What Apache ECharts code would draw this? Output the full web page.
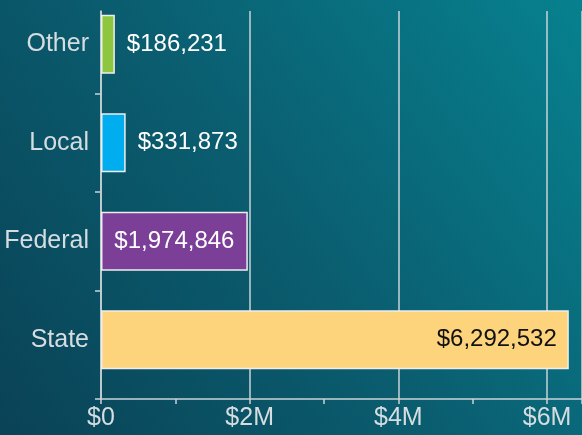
<!DOCTYPE html>
<html><head><meta charset="utf-8">
<script src="https://cdn.jsdelivr.net/npm/echarts@6/dist/echarts.min.js"></script>
<style>html,body{margin:0;padding:0;}#c{width:582px;height:435px;}</style>
</head><body><div id="c"></div>
<script>
const categories = ['State', 'Federal', 'Local', 'Other'];
const values = [6292532, 1974846, 331873, 186231];
const barColors = ['#fdd37c', '#7b3f98', '#00aeef', '#8dc63f'];
const labelColors = ['#111111', '#ffffff', '#ffffff', '#ffffff'];
const labelPositions = ['insideRight', 'inside', 'right', 'right'];
const axisMax = 6470000;

const FONT = 'Liberation Sans';
const fmtMoney = v => '$' + v.toLocaleString('en-US');
const fmtTick = v => v === 0 ? '$0' : (v % 2000000 === 0 ? '$' + (v / 1000000) + 'M' : '');
const lineCol = '#c9d3d7';

const chart = echarts.init(document.getElementById('c'));
chart.setOption({
  backgroundColor: new echarts.graphic.LinearGradient(0, 1, 1, 0, [
    {offset: 0, color: '#0a4256'},
    {offset: 0.5, color: '#0a5e70'},
    {offset: 1, color: '#07818f'}
  ]),
  animation: false,
  grid: [
    {left: 101, right: 0, top: -5, height: 394, containLabel: false, outerBoundsMode: 'none'},
    {left: 101, right: 0, top: 11, bottom: 36, containLabel: false, outerBoundsMode: 'none'}
  ],
  xAxis: [
    {gridIndex: 0, type: 'value', min: 0, max: axisMax, interval: 1000000, offset: 10,
     axisLine: {show: false}, axisLabel: {show: false}, splitLine: {show: false},
     axisTick: {show: true, length: 5, lineStyle: {color: lineCol, width: 1.5}}},
    {gridIndex: 1, type: 'value', min: 0, max: axisMax, interval: 2000000,
     axisLine: {show: true, lineStyle: {color: lineCol, width: 1.5}},
     axisTick: {show: false},
     splitLine: {show: true, lineStyle: {color: lineCol, width: 1.5}},
     axisLabel: {color: '#d5dde0', fontFamily: FONT, fontSize: 25, margin: 7, formatter: fmtTick}}
  ],
  yAxis: [
    {gridIndex: 0, type: 'category', data: categories,
     axisLine: {show: false},
     axisTick: {show: true, length: 6, interval: (i) => i > 0, lineStyle: {color: lineCol, width: 1.5}},
     axisLabel: {color: '#d5dde0', fontFamily: FONT, fontSize: 25, margin: 12}},
    {gridIndex: 1, type: 'value', min: 0, max: 1, interval: 1,
     axisLine: {show: true, lineStyle: {color: lineCol, width: 1.5}},
     axisTick: {show: true, length: 6, customValues: [0], lineStyle: {color: lineCol, width: 1.5}},
     axisLabel: {show: false}, splitLine: {show: false}}
  ],
  series: [{
    type: 'bar', xAxisIndex: 0, yAxisIndex: 0,
    barCategoryGap: '40%',
    data: values.map((v, i) => ({
      value: v,
      itemStyle: {color: barColors[i], borderColor: '#eeeeee', borderWidth: 1.5},
      label: {show: true, position: labelPositions[i], distance: 12, color: labelColors[i],
              fontFamily: FONT, fontSize: 24, formatter: p => fmtMoney(p.value)}
    }))
  }]
});
</script></body></html>
